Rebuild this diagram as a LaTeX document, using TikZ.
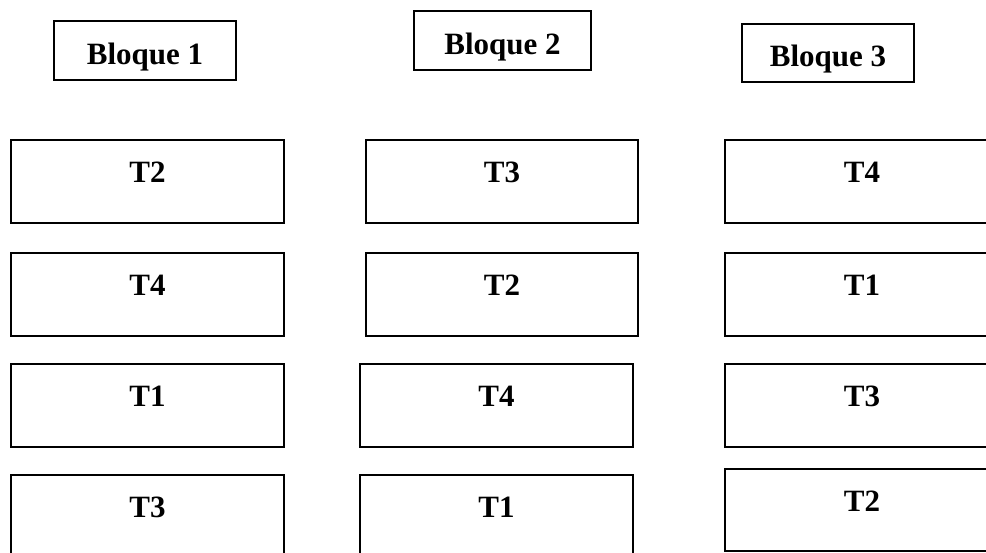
\documentclass[tikz,border=0pt]{standalone}
\usepackage{fontspec}
\setmainfont{Liberation Serif}
\begin{document}
\begin{tikzpicture}[x=1pt,y=-1pt,
  boxbase/.style={draw=black, line width=1.4pt, rectangle, inner sep=0pt,
    font=\fontsize{31}{35}\selectfont\bfseries},
  tbox/.style={boxbase, minimum height=83pt, text height=21pt, text depth=19pt},
  hbox/.style={boxbase, text height=30pt, text depth=3pt}]
\useasboundingbox (0,0) rectangle (986,552);
% headers
\node[hbox, minimum width=182pt, minimum height=59pt] (b1) at (145,50.5) {Bloque 1};
\node[hbox, minimum width=177pt, minimum height=59pt] (b2) at (502.5,40.5) {Bloque 2};
\node[hbox, minimum width=172pt, minimum height=58pt] (b3) at (828,53) {Bloque 3};
% column 1
\node[tbox, minimum width=273pt] (c1r1) at (147.5,181.5) {T2};
\node[tbox, minimum width=273pt] (c1r2) at (147.5,294.5) {T4};
\node[tbox, minimum width=273pt] (c1r3) at (147.5,405.5) {T1};
\node[tbox, minimum width=273pt] (c1r4) at (147.5,516.5) {T3};
% column 2
\node[tbox, minimum width=272pt] (c2r1) at (502,181.5) {T3};
\node[tbox, minimum width=272pt] (c2r2) at (502,294.5) {T2};
\node[tbox, minimum width=273pt] (c2r3) at (496.5,405.5) {T4};
\node[tbox, minimum width=273pt] (c2r4) at (496.5,516.5) {T1};
% column 3
\node[tbox, minimum width=274pt] (c3r1) at (862,181.5) {T4};
\node[tbox, minimum width=274pt] (c3r2) at (862,294.5) {T1};
\node[tbox, minimum width=274pt] (c3r3) at (862,405.5) {T3};
\node[tbox, minimum width=274pt, minimum height=82pt] (c3r4) at (862,510) {T2};
\end{tikzpicture}
\end{document}
